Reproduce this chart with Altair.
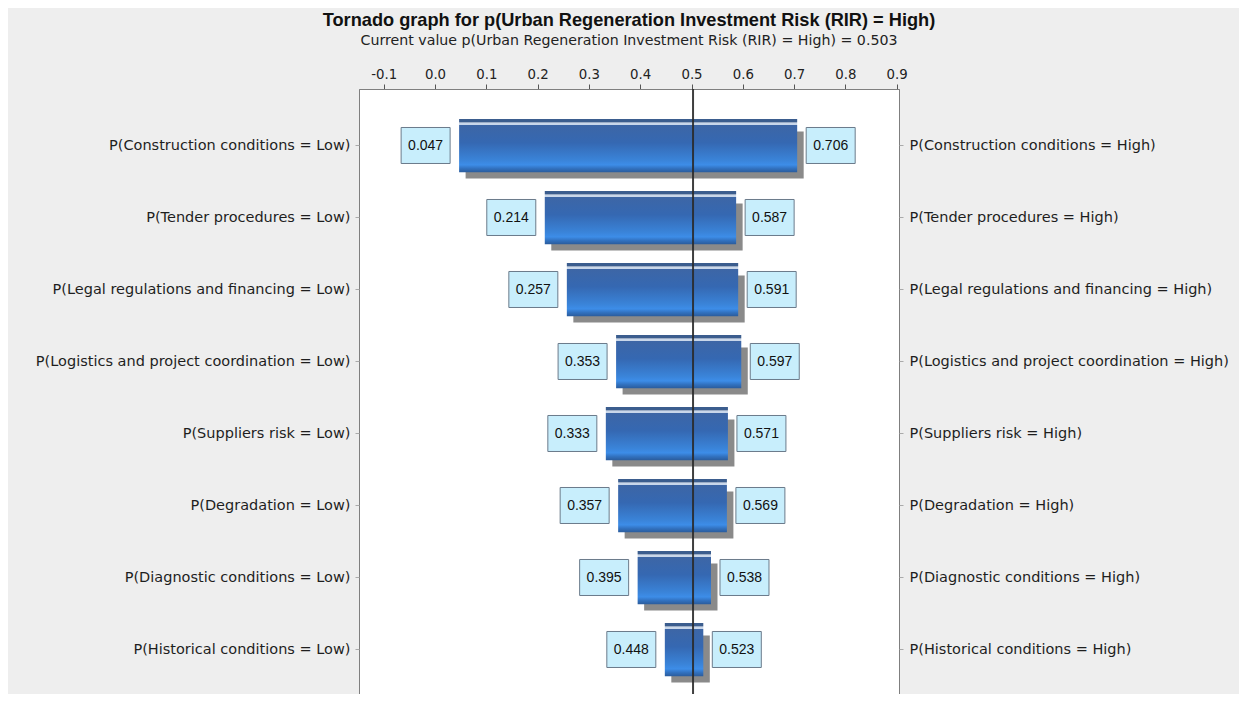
import json
import altair as alt
import pandas as pd

# ---- data ----
factors = [
    "Construction conditions",
    "Tender procedures",
    "Legal regulations and financing",
    "Logistics and project coordination",
    "Suppliers risk",
    "Degradation",
    "Diagnostic conditions",
    "Historical conditions",
]
low_values = [0.047, 0.214, 0.257, 0.353, 0.333, 0.357, 0.395, 0.448]
high_values = [0.706, 0.587, 0.591, 0.597, 0.571, 0.569, 0.538, 0.523]
current_value = 0.503
x_ticks = [-0.1, 0.0, 0.1, 0.2, 0.3, 0.4, 0.5, 0.6, 0.7, 0.8, 0.9]
low_labels = [f"P({f} = Low)" for f in factors]
high_labels = [f"P({f} = High)" for f in factors]
title_text = "Tornado graph for p(Urban Regeneration Investment Risk (RIR) = High)"
subtitle_text = f"Current value p(Urban Regeneration Investment Risk (RIR) = High) = {current_value:.3f}"

df = pd.DataFrame({
    "row": list(range(len(factors))),
    "low": low_values,
    "high": high_values,
    "low_txt": [f"{v:.3f}" for v in low_values],
    "high_txt": [f"{v:.3f}" for v in high_values],
})
cur_df = pd.DataFrame({"current": [current_value]})

LABEL_FONT = "DejaVu Sans"
NUM_FONT = "Liberation Sans"

xscale = alt.Scale(domain=[-0.14815, 0.90448], nice=False, zero=False)
yscale = alt.Scale(domain=[-0.78472, 7.61806], nice=False, zero=False, reverse=True)

xaxis = alt.Axis(
    orient="top", values=x_ticks, title=None, grid=False,
    domain=True, domainColor="#7f7f7f", domainWidth=1,
    labelExpr="datum.value < -0.00001 ? '-' + format(-datum.value, '.1f') : format(abs(datum.value), '.1f')",
    tickSize=5, tickColor="#555555", labelPadding=3,
    labelFont=LABEL_FONT, labelFontSize=13.3, labelColor="#222222",
)


def arr_expr(items):
    return "[" + ",".join(json.dumps(s) for s in items) + "][datum.value]"


yleft = alt.Axis(
    orient="left", values=list(range(len(factors))), title=None, grid=False, domain=False,
    labelExpr=arr_expr(low_labels), tickSize=4, tickColor="#aaaaaa", labelPadding=5,
    labelFont=LABEL_FONT, labelFontSize=14.5, labelColor="#1e1e1e", labelBaseline="middle",
    labelLimit=0,
)
yright = alt.Axis(
    orient="right", values=list(range(len(factors))), title=None, grid=False, domain=False,
    labelExpr=arr_expr(high_labels), tickSize=4, tickColor="#aaaaaa", labelPadding=6,
    labelFont=LABEL_FONT, labelFontSize=14.5, labelColor="#1e1e1e", labelBaseline="middle",
    labelLimit=0,
)

base = alt.Chart(df)
X_low = alt.X("low:Q", scale=xscale, axis=xaxis)
Y_none = alt.Y("row:Q", scale=yscale, axis=None)

grad = alt.Gradient(
    gradient="linear", x1=0, x2=0, y1=0, y2=1,
    stops=[
        alt.GradientStop(color="#c9d7ea", offset=0.0),
        alt.GradientStop(color="#c9d7ea", offset=0.035),
        alt.GradientStop(color="#3d66a6", offset=0.05),
        alt.GradientStop(color="#3568b2", offset=0.40),
        alt.GradientStop(color="#3a84d9", offset=0.76),
        alt.GradientStop(color="#3d8de8", offset=0.85),
        alt.GradientStop(color="#3170bd", offset=0.93),
        alt.GradientStop(color="#2b5c9c", offset=1.0),
    ],
)

shadow = base.mark_rect(
    fill="#8a8a8a", xOffset=6.5, x2Offset=6.5, yOffset=-14, y2Offset=33
).encode(x=X_low, x2="high:Q", y=Y_none, y2="row:Q")

main = base.mark_rect(fill=grad, yOffset=-22.5, y2Offset=26.7).encode(
    x=X_low, x2="high:Q", y=alt.Y("row:Q", scale=yscale, axis=yleft), y2="row:Q"
)

strip = base.mark_rect(fill="#3b5d8e", yOffset=-26.5, y2Offset=-23).encode(
    x=X_low, x2="high:Q", y=Y_none, y2="row:Q"
)

rule = alt.Chart(cur_df).mark_rule(color="#2a2a2a", strokeWidth=2, opacity=0.9).encode(
    x=alt.X("current:Q", scale=xscale, axis=xaxis)
)

box_style = dict(fill="#c8eefc", stroke="#6b7b8b", strokeWidth=1, yOffset=-18, y2Offset=18)

left_box = base.mark_rect(xOffset=-58, x2Offset=-9, **box_style).encode(
    x=X_low, x2="low:Q", y=Y_none, y2="row:Q"
)
left_txt = base.mark_text(
    font=NUM_FONT, fontSize=14, dx=-33.5, dy=1, color="#111111", align="center", baseline="middle"
).encode(x=X_low, y=Y_none, text="low_txt:N")

right_box = base.mark_rect(xOffset=9, x2Offset=58, **box_style).encode(
    x=alt.X("high:Q", scale=xscale, axis=xaxis), x2="high:Q",
    y=alt.Y("row:Q", scale=yscale, axis=yright), y2="row:Q"
)
right_txt = base.mark_text(
    font=NUM_FONT, fontSize=14, dx=33.5, dy=1, color="#111111", align="center", baseline="middle"
).encode(x=alt.X("high:Q", scale=xscale, axis=xaxis), y=Y_none, text="high_txt:N")

chart = alt.layer(
    shadow, main, strip, rule, left_box, left_txt, right_box, right_txt
).resolve_scale(y="independent").resolve_axis(y="independent").properties(
    width=540,
    height=605,
    autosize=alt.AutoSizeParams(type="none"),
    padding={"left": 351, "top": 81, "right": 340, "bottom": 0},
    background="#eeeeee",
    title=alt.TitleParams(
        text=title_text,
        subtitle=subtitle_text,
        anchor="middle",
        frame="group",
        font="Liberation Sans",
        fontSize=18.2,
        fontWeight="bold",
        color="#111111",
        subtitleFont=LABEL_FONT,
        subtitleFontSize=14.2,
        subtitleColor="#222222",
        offset=18,
        subtitlePadding=4,
    ),
).configure_view(fill="white", stroke="#7f7f7f", strokeWidth=1)

chart.save("out.html", embed_options={"renderer": "svg", "actions": False})
